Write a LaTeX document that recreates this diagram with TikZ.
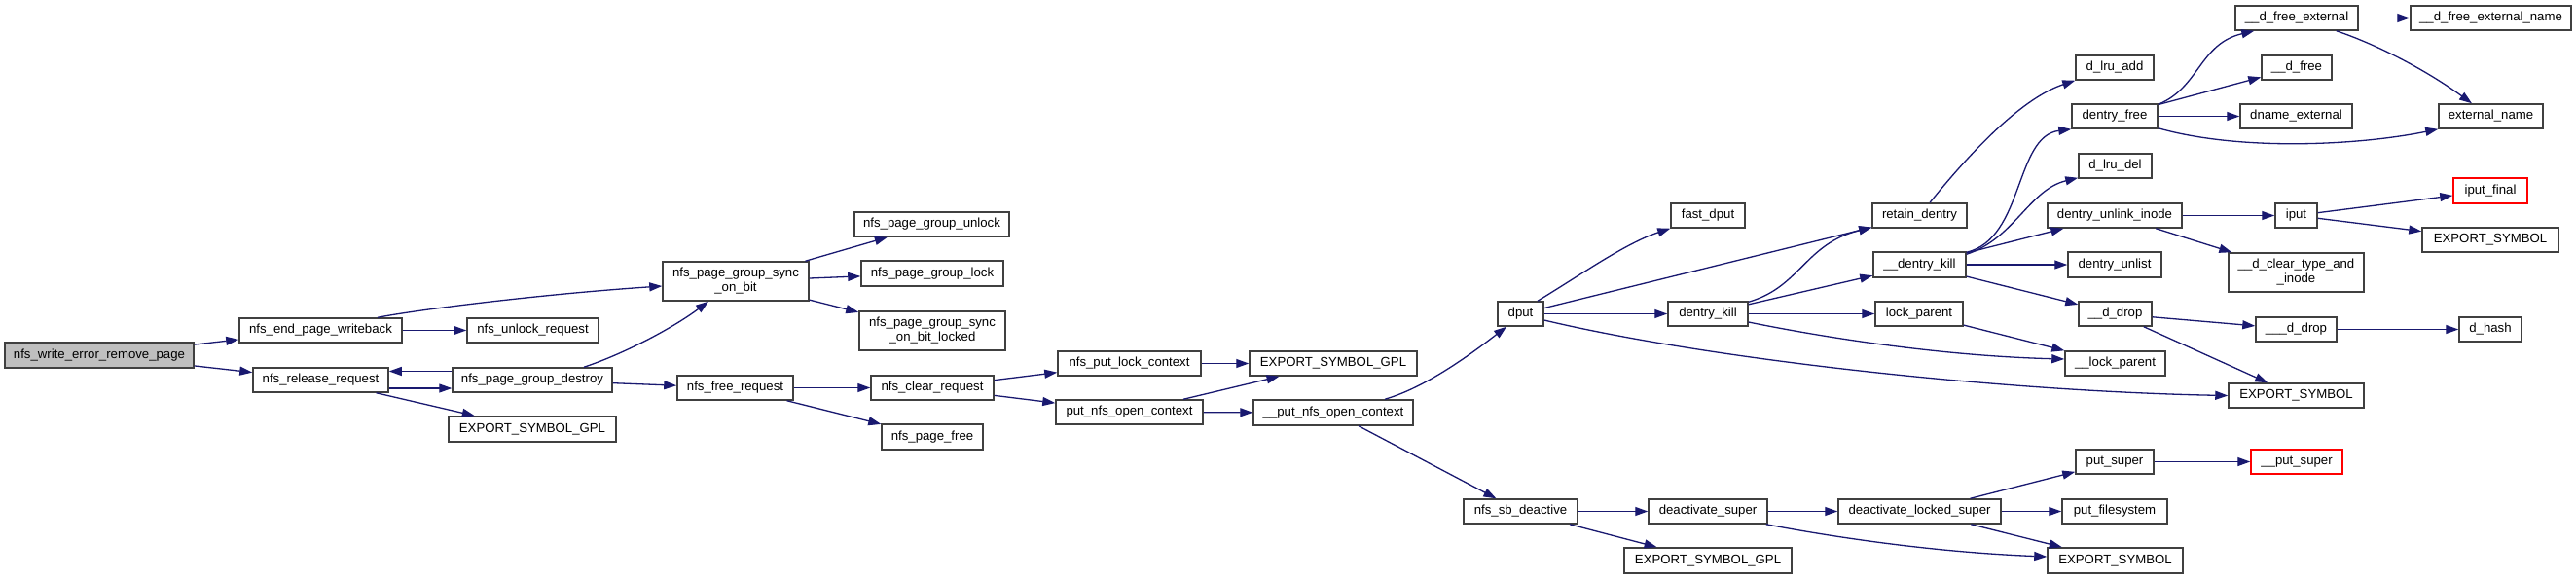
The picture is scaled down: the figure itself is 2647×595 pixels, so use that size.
\documentclass[tikz,border=0pt]{standalone}
\usepackage{fontspec}
\setmainfont{Liberation Sans}
\usetikzlibrary{arrows.meta,calc}
\definecolor{edgeblue}{HTML}{191970}
\definecolor{boxline}{HTML}{404040}
\definecolor{rootfill}{HTML}{BFBFBF}
\tikzset{
  box/.style={draw=boxline, line width=1.5pt, fill=white, inner sep=0pt, align=center,
    font=\fontsize{13.2}{15}\selectfont},
  rootbox/.style={box, fill=rootfill},
  redbox/.style={box, draw=red},
  edge/.style={draw=edgeblue, line width=1.3pt, -{Triangle[length=13pt,width=9pt]}}
}
\begin{document}
\begin{tikzpicture}[x=1pt,y=-1pt]
\path[use as bounding box, fill=white] (0,0) rectangle (2647,595);
% nodes
\node[rootbox, minimum width=194pt, minimum height=26pt] (root) at (102,365) {nfs\_write\_error\_remove\_page};
\node[box, minimum width=167pt, minimum height=25pt] (endwb) at (329.5,339.5) {nfs\_end\_page\_writeback};
\node[box, minimum width=139pt, minimum height=25pt] (release) at (329.5,390.5) {nfs\_release\_request};
\node[box, minimum width=150pt, minimum height=40pt] (sync) at (756,289) {nfs\_page\_group\_sync\\\_on\_bit};
\node[box, minimum width=135pt, minimum height=25pt] (unlock) at (547.5,339.5) {nfs\_unlock\_request};
\node[box, minimum width=164pt, minimum height=25pt] (destroy) at (547,390.5) {nfs\_page\_group\_destroy};
\node[box, minimum width=119pt, minimum height=25pt] (freereq) at (755.5,398.5) {nfs\_free\_request};
\node[box, minimum width=172pt, minimum height=26pt] (gplA) at (547,441) {EXPORT\_SYMBOL\_GPL};
\node[box, minimum width=159pt, minimum height=25pt] (pgunlock) at (957.5,230.5) {nfs\_page\_group\_unlock};
\node[box, minimum width=146pt, minimum height=26pt] (pglock) at (958,281) {nfs\_page\_group\_lock};
\node[box, minimum width=150pt, minimum height=40pt] (synclocked) at (958,340) {nfs\_page\_group\_sync\\\_on\_bit\_locked};
\node[box, minimum width=126pt, minimum height=25pt] (clear) at (958,398.5) {nfs\_clear\_request};
\node[box, minimum width=104pt, minimum height=26pt] (pagefree) at (958,449) {nfs\_page\_free};
\node[box, minimum width=147pt, minimum height=25pt] (putlock) at (1160.5,373.5) {nfs\_put\_lock\_context};
\node[box, minimum width=151pt, minimum height=25pt] (putopen) at (1160.5,423.5) {put\_nfs\_open\_context};
\node[box, minimum width=172pt, minimum height=25pt] (gplB) at (1370,373.5) {EXPORT\_SYMBOL\_GPL};
\node[box, minimum width=164pt, minimum height=26pt] (uputopen) at (1370,424) {\_\_put\_nfs\_open\_context};
\node[box, minimum width=47pt, minimum height=25pt] (dput) at (1562.5,322.5) {dput};
\node[box, minimum width=76pt, minimum height=25pt] (fastdput) at (1755,221.5) {fast\_dput};
\node[box, minimum width=82pt, minimum height=25pt] (dentrykill) at (1755,322.5) {dentry\_kill};
\node[box, minimum width=117pt, minimum height=25pt] (sbdeact) at (1562.5,525.5) {nfs\_sb\_deactive};
\node[box, minimum width=172pt, minimum height=26pt] (gplC) at (1755,576) {EXPORT\_SYMBOL\_GPL};
\node[box, minimum width=122pt, minimum height=25pt] (deactsuper) at (1755,525.5) {deactivate\_super};
\node[box, minimum width=97pt, minimum height=25pt] (retain) at (1972.5,221.5) {retain\_dentry};
\node[box, minimum width=95pt, minimum height=26pt] (udkill) at (1972.5,272) {\_\_dentry\_kill};
\node[box, minimum width=90pt, minimum height=25pt] (lockparent) at (1972,322.5) {lock\_parent};
\node[box, minimum width=103pt, minimum height=25pt] (ulockparent) at (2173.5,373.5) {\_\_lock\_parent};
\node[box, minimum width=167pt, minimum height=25pt] (dlocked) at (1972.5,525.5) {deactivate\_locked\_super};
\node[box, minimum width=80pt, minimum height=25pt] (dlruadd) at (2173,69.5) {d\_lru\_add};
\node[box, minimum width=88pt, minimum height=25pt] (dfree) at (2173,119.5) {dentry\_free};
\node[box, minimum width=75pt, minimum height=25pt] (dlrudel) at (2173.5,170.5) {d\_lru\_del};
\node[box, minimum width=138pt, minimum height=25pt] (unlinkinode) at (2173,221.5) {dentry\_unlink\_inode};
\node[box, minimum width=96pt, minimum height=26pt] (unlist) at (2173,272) {dentry\_unlist};
\node[box, minimum width=75pt, minimum height=25pt] (uddrop) at (2173.5,322.5) {\_\_d\_drop};
\node[box, minimum width=139pt, minimum height=25pt] (expMid) at (2359.5,406.5) {EXPORT\_SYMBOL};
\node[box, minimum width=80pt, minimum height=25pt] (putsuper) at (2173,474.5) {put\_super};
\node[box, minimum width=108pt, minimum height=25pt] (putfs) at (2173,525.5) {put\_filesystem};
\node[box, minimum width=139pt, minimum height=26pt] (expBot) at (2173.5,576) {EXPORT\_SYMBOL};
\node[box, minimum width=126pt, minimum height=25pt] (udfreeext) at (2360,18.5) {\_\_d\_free\_external};
\node[box, minimum width=165pt, minimum height=25pt] (udfreeextname) at (2559.5,18.5) {\_\_d\_free\_external\_name};
\node[box, minimum width=72pt, minimum height=25pt] (udfree) at (2360,69.5) {\_\_d\_free};
\node[box, minimum width=115pt, minimum height=25pt] (dnameext) at (2359.5,119.5) {dname\_external};
\node[box, minimum width=107pt, minimum height=25pt] (extname) at (2559.5,119.5) {external\_name};
\node[redbox, minimum width=76pt, minimum height=26pt] (iputfinal) at (2559,196) {iput\_final};
\node[box, minimum width=43pt, minimum height=25pt] (iput) at (2359.5,221.5) {iput};
\node[box, minimum width=140pt, minimum height=25pt] (expIput) at (2559,246.5) {EXPORT\_SYMBOL};
\node[box, minimum width=139pt, minimum height=40pt] (udclear) at (2359.5,280) {\_\_d\_clear\_type\_and\\\_inode};
\node[box, minimum width=83pt, minimum height=25pt] (uuddrop) at (2359.5,338.5) {\_\_\_d\_drop};
\node[box, minimum width=64pt, minimum height=25pt] (dhash) at (2559,338.5) {d\_hash};
\node[redbox, minimum width=94pt, minimum height=25pt] (uputsuper) at (2360,474.5) {\_\_put\_super};
% edges
\draw[edge] (root) -- (endwb);
\draw[edge] (root) -- (release);
\draw[edge] ($(endwb.north)+(58.5,0)$) .. controls (430,318) and (560,302) .. ($(sync.west)+(0,5)$);
\draw[edge] (endwb) -- (unlock);
\draw[edge] ([yshift=-8.5pt]release.east) -- ([yshift=-8.5pt]destroy.west);
\draw[edge] ([yshift=9pt]destroy.west) -- ([yshift=9pt]release.east);
\draw[edge] (release) -- (gplA);
\draw[edge] ($(destroy.north)+(53,0)$) .. controls (640,364) and (690,338) .. ($(sync.south)+(-28,0)$);
\draw[edge] (destroy) -- (freereq);
\draw[edge] (sync) -- (pgunlock);
\draw[edge] (sync) -- (pglock);
\draw[edge] (sync) -- (synclocked);
\draw[edge] (freereq) -- (clear);
\draw[edge] (freereq) -- (pagefree);
\draw[edge] (clear) -- (putlock);
\draw[edge] (clear) -- (putopen);
\draw[edge] (putlock) -- (gplB);
\draw[edge] (putopen) -- (gplB);
\draw[edge] (putopen) -- (uputopen);
\draw[edge] ($(uputopen.north)+(53,0)$) .. controls (1465,398) and (1510,365) .. ($(dput.south)+(-14.5,0)$);
\draw[edge] (uputopen) -- (sbdeact);
\draw[edge] ($(dput.north)+(17.5,0)$) .. controls (1625,282) and (1670,250) .. (fastdput.south west);
\draw[edge] (dput) -- (retain);
\draw[edge] (dput) -- (dentrykill);
\draw[edge] ($(dput.east)+(0,6.5)$) .. controls (1750,368) and (2050,402) .. (expMid.west);
\draw[edge] ($(dentrykill.north east)+(0,1)$) .. controls (1850,295) and (1855,250) .. ($(retain.south west)+(0,-1)$);
\draw[edge] (dentrykill) -- (udkill);
\draw[edge] (dentrykill) -- (lockparent);
\draw[edge] ($(dentrykill.east)+(0,8.5)$) .. controls (1880,348) and (2000,366) .. ($(ulockparent.west)+(0,-4.5)$);
\draw[edge] (lockparent) -- (ulockparent);
\draw[edge] ($(retain.north)+(10.5,0)$) .. controls (2030,150) and (2080,100) .. (dlruadd.south west);
\draw[edge] ($(udkill.north east)+(0,1)$) .. controls (2080,245) and (2070,140) .. (dfree.south west);
\draw[edge] ($(udkill.north east)+(0,3)$) .. controls (2070,245) and (2085,195) .. ($(dlrudel.south west)+(0,-1)$);
\draw[edge] (udkill) -- (unlinkinode);
\draw[edge] (udkill) -- (unlist);
\draw[edge] (udkill) -- (uddrop);
\draw[edge] ($(dfree.north east)+(0,1)$) .. controls (2260,90) and (2260,45) .. ($(udfreeext.south west)+(20,0)$);
\draw[edge] (dfree) -- (udfree);
\draw[edge] (dfree) -- (dnameext);
\draw[edge] ($(dfree.south east)+(0,-1)$) .. controls (2300,155) and (2420,150) .. (extname.south west);
\draw[edge] (udfreeext) -- (udfreeextname);
\draw[edge] ($(udfreeext.south east)+(-23,0)$) .. controls (2440,45) and (2490,70) .. ($(extname.north)+(-19.5,0)$);
\draw[edge] (unlinkinode) -- (iput);
\draw[edge] (unlinkinode) -- (udclear);
\draw[edge] (iput) -- (iputfinal);
\draw[edge] (iput) -- (expIput);
\draw[edge] (uddrop) -- (uuddrop);
\draw[edge] (uddrop) -- (expMid);
\draw[edge] (uuddrop) -- (dhash);
\draw[edge] (sbdeact) -- (deactsuper);
\draw[edge] (sbdeact) -- (gplC);
\draw[edge] (deactsuper) -- (dlocked);
\draw[edge] ($(deactsuper.south east)+(-2,0)$) .. controls (1900,555) and (2000,568) .. ($(expBot.west)+(0,-4)$);
\draw[edge] (dlocked) -- (putsuper);
\draw[edge] (dlocked) -- (putfs);
\draw[edge] (dlocked) -- (expBot);
\draw[edge] (putsuper) -- (uputsuper);
\end{tikzpicture}
\end{document}
